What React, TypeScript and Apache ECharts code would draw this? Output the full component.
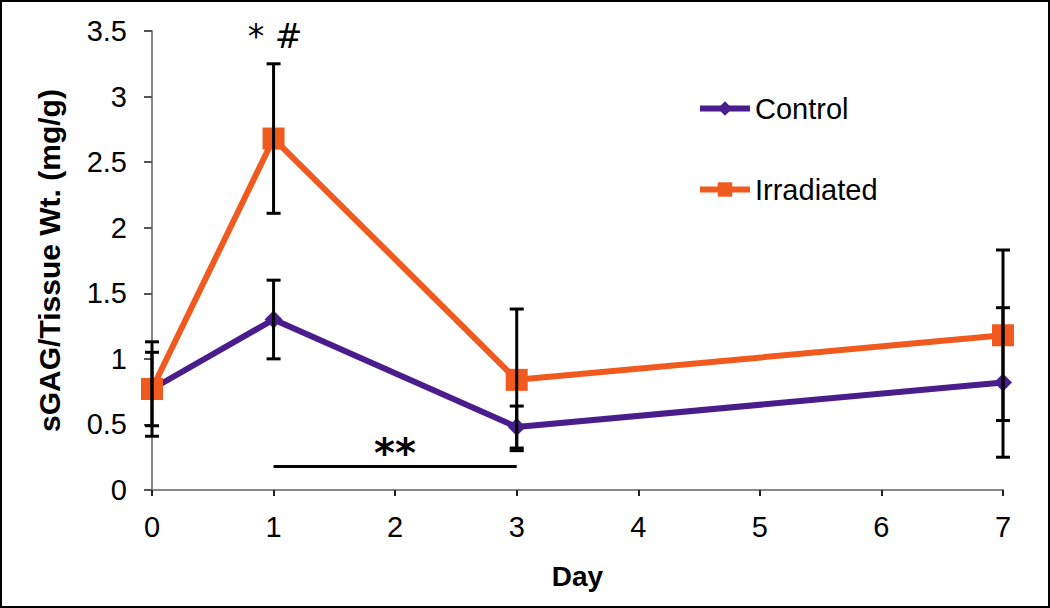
import React, { useEffect, useRef } from "react";
import * as echarts from "echarts";

const days = [0, 1, 3, 7];
const controlMean = [0.77, 1.3, 0.48, 0.82];
const controlErr = [0.28, 0.3, 0.16, 0.57];
const irradMean = [0.77, 2.68, 0.84, 1.18];
const irradErr = [0.36, 0.57, 0.54, 0.65];
const yTicks = { min: 0, max: 3.5, interval: 0.5 };
const xTicks = { min: 0, max: 7, interval: 1 };
const sigBar = [[1, 0.18], [3, 0.18]];
const sigLabelDay1 = "* #";
const sigLabelBar = "**";

const FONT = "Liberation Sans, Arial, Helvetica, sans-serif";
const SYMFONT = "DejaVu Sans, sans-serif";

export default function App() {
  const ref = useRef<HTMLDivElement>(null);
  useEffect(() => {
    document.body.style.margin = "0";
    const chart = echarts.init(ref.current!, null, { renderer: "svg" });
    const errData: number[][] = [];
    days.forEach((d, i) => {
      errData.push([d, controlMean[i] - controlErr[i], controlMean[i] + controlErr[i]]);
      errData.push([d, irradMean[i] - irradErr[i], irradMean[i] + irradErr[i]]);
    });
    const cap = 7;
    chart.setOption({
      animation: false,
      textStyle: { fontFamily: FONT },
      grid: { left: 152, right: 47, top: 31, bottom: 118 },
      legend: {
        orient: "vertical",
        left: 692,
        top: 89,
        itemGap: 52,
        itemWidth: 50,
        itemHeight: 18,
        lineStyle: { width: 6 },
        textStyle: { fontSize: 29, color: "#000", fontFamily: FONT },
        data: ["Control", "Irradiated"],
      },
      xAxis: {
        type: "value",
        ...xTicks,
        name: "Day",
        nameLocation: "middle",
        nameGap: 72,
        nameTextStyle: { fontSize: 28, fontWeight: "bold", color: "#000", fontFamily: FONT },
        axisLine: { lineStyle: { color: "#888", width: 2 } },
        axisTick: { show: true, length: 6, lineStyle: { color: "#222", width: 2 } },
        axisLabel: { fontSize: 29, color: "#000", margin: 22, fontFamily: FONT },
        splitLine: { show: false },
      },
      yAxis: {
        type: "value",
        ...yTicks,
        name: "sGAG/Tissue Wt. (mg/g)",
        nameLocation: "middle",
        nameGap: 88,
        nameTextStyle: { fontSize: 30, fontWeight: "bold", color: "#000", fontFamily: FONT },
        axisLine: { show: true, lineStyle: { color: "#888", width: 2 } },
        axisTick: { show: true, length: 8, lineStyle: { color: "#555", width: 2 } },
        axisLabel: { fontSize: 29, color: "#000", margin: 25, fontFamily: FONT },
        splitLine: { show: false },
      },
      series: [
        {
          name: "Control",
          type: "line",
          data: days.map((d, i) => [d, controlMean[i]]),
          symbol: "diamond",
          symbolSize: 18,
          lineStyle: { color: "#4a1d8c", width: 6 },
          itemStyle: { color: "#4a1d8c" },
          z: 2,
        },
        {
          name: "Irradiated",
          type: "line",
          data: days.map((d, i) => [d, irradMean[i]]),
          symbol: "rect",
          symbolSize: 22,
          lineStyle: { color: "#f05a1e", width: 6 },
          itemStyle: { color: "#f05a1e" },
          z: 3,
        },
        {
          type: "custom",
          data: errData,
          z: 5,
          renderItem: (params: any, api: any) => {
            const x = api.value(0);
            const lo = api.coord([x, api.value(1)]);
            const hi = api.coord([x, api.value(2)]);
            const style = { stroke: "#000", lineWidth: 3 };
            return {
              type: "group",
              children: [
                { type: "line", shape: { x1: lo[0], y1: lo[1], x2: hi[0], y2: hi[1] }, style },
                { type: "line", shape: { x1: lo[0] - cap, y1: lo[1], x2: lo[0] + cap, y2: lo[1] }, style },
                { type: "line", shape: { x1: hi[0] - cap, y1: hi[1], x2: hi[0] + cap, y2: hi[1] }, style },
              ],
            };
          },
        },
        {
          type: "line",
          data: sigBar,
          symbol: "none",
          lineStyle: { color: "#000", width: 3 },
          silent: true,
          z: 4,
        },
      ],
      graphic: [
        {
          type: "rect",
          shape: { x: 1, y: 1, width: 1048, height: 606 },
          style: { fill: "none", stroke: "#000", lineWidth: 2 },
          silent: true,
        },
        {
          type: "text",
          x: 275,
          y: 36,
          style: { text: sigLabelDay1, fontSize: 33, fill: "#000", align: "center", verticalAlign: "middle", fontFamily: SYMFONT },
        },
        {
          type: "text",
          x: 395,
          y: 453,
          style: { text: sigLabelBar, fontSize: 40, fontWeight: "bold", fill: "#000", align: "center", verticalAlign: "middle", fontFamily: SYMFONT },
        },
      ],
    });
    return () => chart.dispose();
  }, []);
  return <div ref={ref} style={{ width: 1050, height: 608 }} />;
}
